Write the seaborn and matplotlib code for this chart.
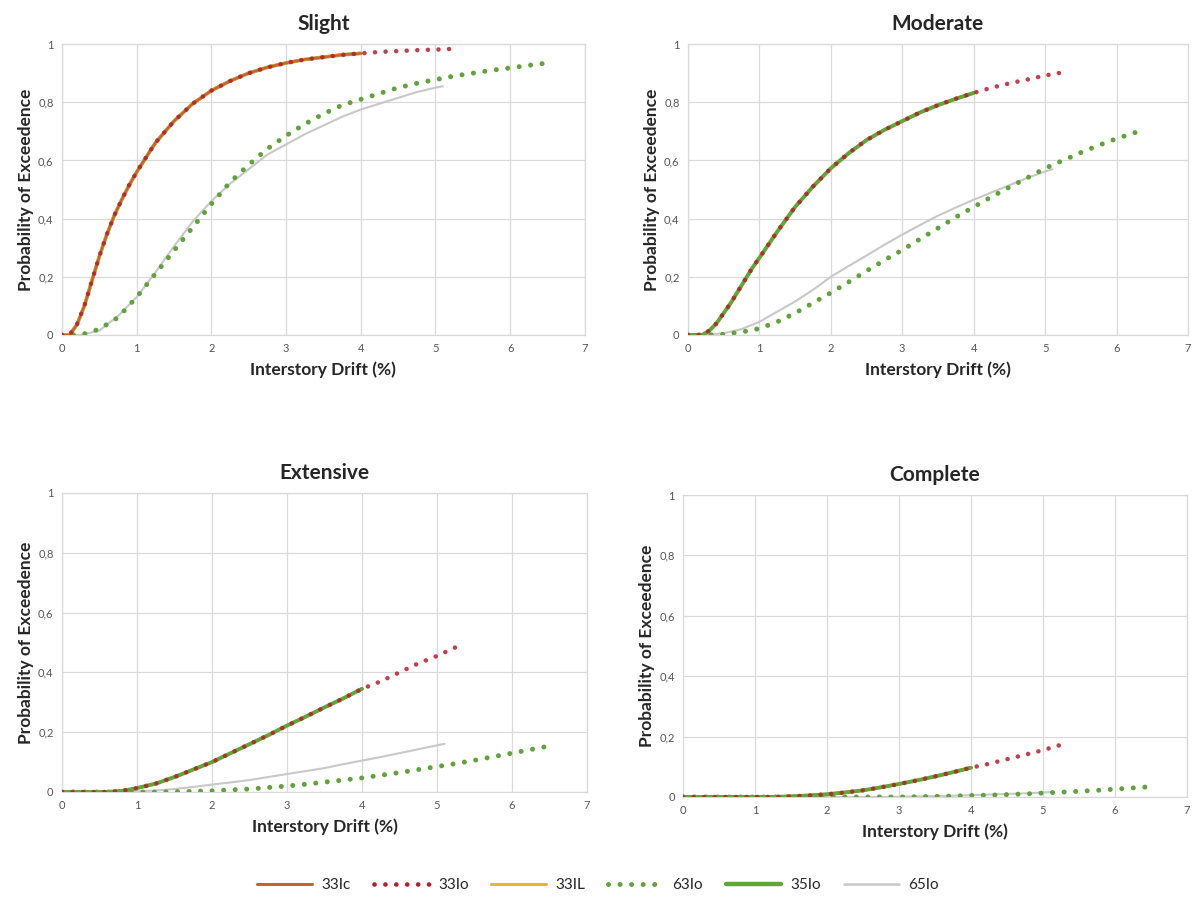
import numpy as np
import pandas as pd
import matplotlib.pyplot as plt
import seaborn as sns
from matplotlib.lines import Line2D

# x grids (interstory drift, %)
X_MAIN = [0, 0.1, 0.2, 0.3, 0.4, 0.5, 0.6, 0.7, 0.8, 0.9, 1.0,
          1.25, 1.5, 1.75, 2.0, 2.25, 2.5, 2.75, 3.0, 3.25, 3.5, 3.75, 4.0]
X_LONG = [0, 0.25, 0.5, 0.75, 1.0, 1.25, 1.5, 1.75, 2.0, 2.25, 2.5, 2.75, 3.0, 3.25, 3.5, 3.75, 4.0,
          4.25, 4.5, 4.75, 5.0, 5.25, 5.5, 5.75, 6.0, 6.25, 6.5]
X_MOD63 = X_LONG[:-1] + [6.4]
X_65 = X_LONG[:21] + [5.1]

# Slight
slight_main = [0, 0, 0.035, 0.10, 0.185, 0.27, 0.345, 0.41, 0.465, 0.515, 0.56,
               0.66, 0.735, 0.795, 0.84, 0.873, 0.90, 0.92, 0.935, 0.947, 0.955, 0.963, 0.968]
slight_ext_x = [4.25, 4.5, 4.75, 5.0, 5.2]
slight_ext = [0.973, 0.976, 0.979, 0.981, 0.983]
slight_63 = [0, 0, 0.02, 0.06, 0.13, 0.21, 0.29, 0.37, 0.45, 0.525, 0.585, 0.64, 0.685, 0.725, 0.76, 0.79, 0.81,
             0.83, 0.85, 0.865, 0.878, 0.89, 0.90, 0.91, 0.918, 0.927, 0.935]
slight_65 = [0, 0, 0.015, 0.065, 0.13, 0.215, 0.305, 0.39, 0.46, 0.52, 0.57, 0.62, 0.655, 0.69, 0.72, 0.75, 0.775,
             0.795, 0.815, 0.835, 0.85, 0.855]

# Moderate
moderate_main = [0, 0, 0, 0.015, 0.04, 0.075, 0.11, 0.15, 0.19, 0.23, 0.265,
                 0.355, 0.44, 0.51, 0.573, 0.625, 0.67, 0.705, 0.735, 0.765, 0.79, 0.812, 0.832]
moderate_ext_x = [4.25, 4.5, 4.75, 5.0, 5.3]
moderate_ext = [0.85, 0.865, 0.878, 0.892, 0.905]
moderate_63 = [0, 0, 0.002, 0.01, 0.022, 0.045, 0.075, 0.11, 0.145, 0.182, 0.22, 0.257, 0.292, 0.33, 0.367, 0.405, 0.44,
               0.475, 0.508, 0.54, 0.573, 0.6, 0.627, 0.652, 0.675, 0.695, 0.705]
moderate_65 = [0, 0.001, 0.006, 0.02, 0.045, 0.08, 0.115, 0.155, 0.2, 0.237, 0.273, 0.31, 0.345, 0.378, 0.41, 0.438, 0.465,
               0.49, 0.515, 0.54, 0.562, 0.57]

# Extensive
extensive_main = [0, 0, 0, 0, 0, 0, 0, 0.002, 0.004, 0.008, 0.013,
                  0.028, 0.05, 0.075, 0.10, 0.13, 0.16, 0.19, 0.222, 0.252, 0.283, 0.313, 0.345]
extensive_ext_x = [4.25, 4.5, 4.75, 5.0, 5.3]
extensive_ext = [0.37, 0.40, 0.43, 0.455, 0.49]
extensive_63 = [0, 0, 0, 0, 0, 0, 0.001, 0.002, 0.004, 0.007, 0.01, 0.015, 0.02, 0.026, 0.033, 0.04, 0.047,
                0.056, 0.065, 0.075, 0.085, 0.095, 0.106, 0.118, 0.13, 0.142, 0.154]
extensive_65 = [0, 0, 0, 0, 0.002, 0.005, 0.01, 0.017, 0.025, 0.032, 0.04, 0.05, 0.06, 0.07, 0.08, 0.093, 0.105,
                0.117, 0.13, 0.143, 0.156, 0.161]

# Complete
complete_main = [0, 0, 0, 0, 0, 0, 0, 0, 0, 0, 0,
                 0, 0.002, 0.005, 0.009, 0.015, 0.022, 0.032, 0.043, 0.055, 0.068, 0.082, 0.097]
complete_ext_x = [4.25, 4.5, 4.75, 5.0, 5.28]
complete_ext = [0.11, 0.125, 0.14, 0.155, 0.175]
complete_63 = [0, 0, 0, 0, 0, 0, 0, 0, 0, 0, 0, 0, 0, 0.001, 0.002, 0.003, 0.005,
               0.006, 0.008, 0.01, 0.013, 0.016, 0.019, 0.022, 0.026, 0.03, 0.034]
complete_65 = [0, 0, 0, 0, 0, 0, 0, 0, 0, 0, 0, 0, 0.001, 0.002, 0.003, 0.004, 0.006,
               0.008, 0.01, 0.012, 0.015, 0.016]

titles = ['Slight', 'Moderate', 'Extensive', 'Complete']
panels = [
    (slight_main, slight_ext_x, slight_ext, X_LONG, slight_63, slight_65),
    (moderate_main, moderate_ext_x, moderate_ext, X_MOD63, moderate_63, moderate_65),
    (extensive_main, extensive_ext_x, extensive_ext, X_LONG, extensive_63, extensive_65),
    (complete_main, complete_ext_x, complete_ext, X_LONG, complete_63, complete_65),
]

C_33IC = '#C8642A'
C_33IO = '#B81E2E'
C_33IL = '#E8B43A'
C_63IO = '#62A23C'
C_35IO = '#5FA737'
C_65IO = '#C8C8C8'
DOTS = (0, (0.01, 2.3))

sns.set_style('white')
plt.rcParams['font.family'] = ['Lato', 'DejaVu Sans']

fig = plt.figure(figsize=(11.96, 9.22), dpi=100)
rects = [
    [0.0518, 0.6367, 0.4372, 0.3155],
    [0.5752, 0.6367, 0.4181, 0.3155],
    [0.0518, 0.1410, 0.4390, 0.3243],
    [0.5711, 0.1356, 0.4214, 0.3275],
]

for i, (title, rect, p) in enumerate(zip(titles, rects, panels)):
    main, ext_x, ext, x63, s63, s65 = p
    ax = fig.add_axes(rect)
    x33io = X_MAIN + ext_x
    y33io = main + ext
    sns.lineplot(x=X_65, y=s65, ax=ax, color=C_65IO, lw=1.5, zorder=2)
    sns.lineplot(x=x63, y=s63, ax=ax, color=C_63IO, lw=3.6, linestyle=DOTS,
                 dash_capstyle='round', zorder=3)
    if i == 0:
        order = [('35', 2.6), ('IL', 2.2), ('Ic', 1.8)]
    else:
        order = [('Ic', 1.8), ('IL', 2.2), ('35', 2.8)]
    for key, lw in order:
        col = {'35': C_35IO, 'IL': C_33IL, 'Ic': C_33IC}[key]
        sns.lineplot(x=X_MAIN, y=main, ax=ax, color=col, lw=lw, zorder=4)
    sns.lineplot(x=x33io, y=y33io, ax=ax, color=C_33IO, lw=3.3, linestyle=DOTS,
                 dash_capstyle='round', zorder=5, alpha=0.85)

    ax.set_xlim(0, 7)
    ax.set_ylim(0, 1)
    ax.set_xticks(range(0, 8))
    ax.set_yticks([0, 0.2, 0.4, 0.6, 0.8, 1.0])
    ax.set_yticklabels(['0', '0,2', '0,4', '0,6', '0,8', '1'])
    ax.tick_params(labelsize=8, colors='#555555', length=0, pad=6)
    ax.grid(True, color='#D9D9D9', lw=0.9)
    for s in ax.spines.values():
        s.set_color('#D9D9D9')
        s.set_linewidth(0.9)
    ax.set_title(title, fontsize=15, fontweight='bold', pad=10)
    ax.set_xlabel('Interstory Drift (%)', fontsize=12.5, fontweight='bold', labelpad=5)
    ax.set_ylabel('Probability of Exceedence', fontsize=12.5, fontweight='bold', labelpad=3)

handles = [
    Line2D([], [], color=C_33IC, lw=2.2),
    Line2D([], [], color=C_33IO, lw=3.4, linestyle=DOTS, dash_capstyle='round'),
    Line2D([], [], color=C_33IL, lw=2.2),
    Line2D([], [], color=C_63IO, lw=3.6, linestyle=DOTS, dash_capstyle='round'),
    Line2D([], [], color=C_35IO, lw=3.2),
    Line2D([], [], color=C_65IO, lw=1.8),
]
labels = ['33Ic', '33Io', '33IL', '63Io', '35Io', '65Io']
fig.legend(handles, labels, loc='center', bbox_to_anchor=(0.5, 0.04), ncol=6, frameon=False,
           fontsize=11, handlelength=3.6, columnspacing=1.5, handletextpad=0.6)

fig.savefig('out.png', dpi=100)
